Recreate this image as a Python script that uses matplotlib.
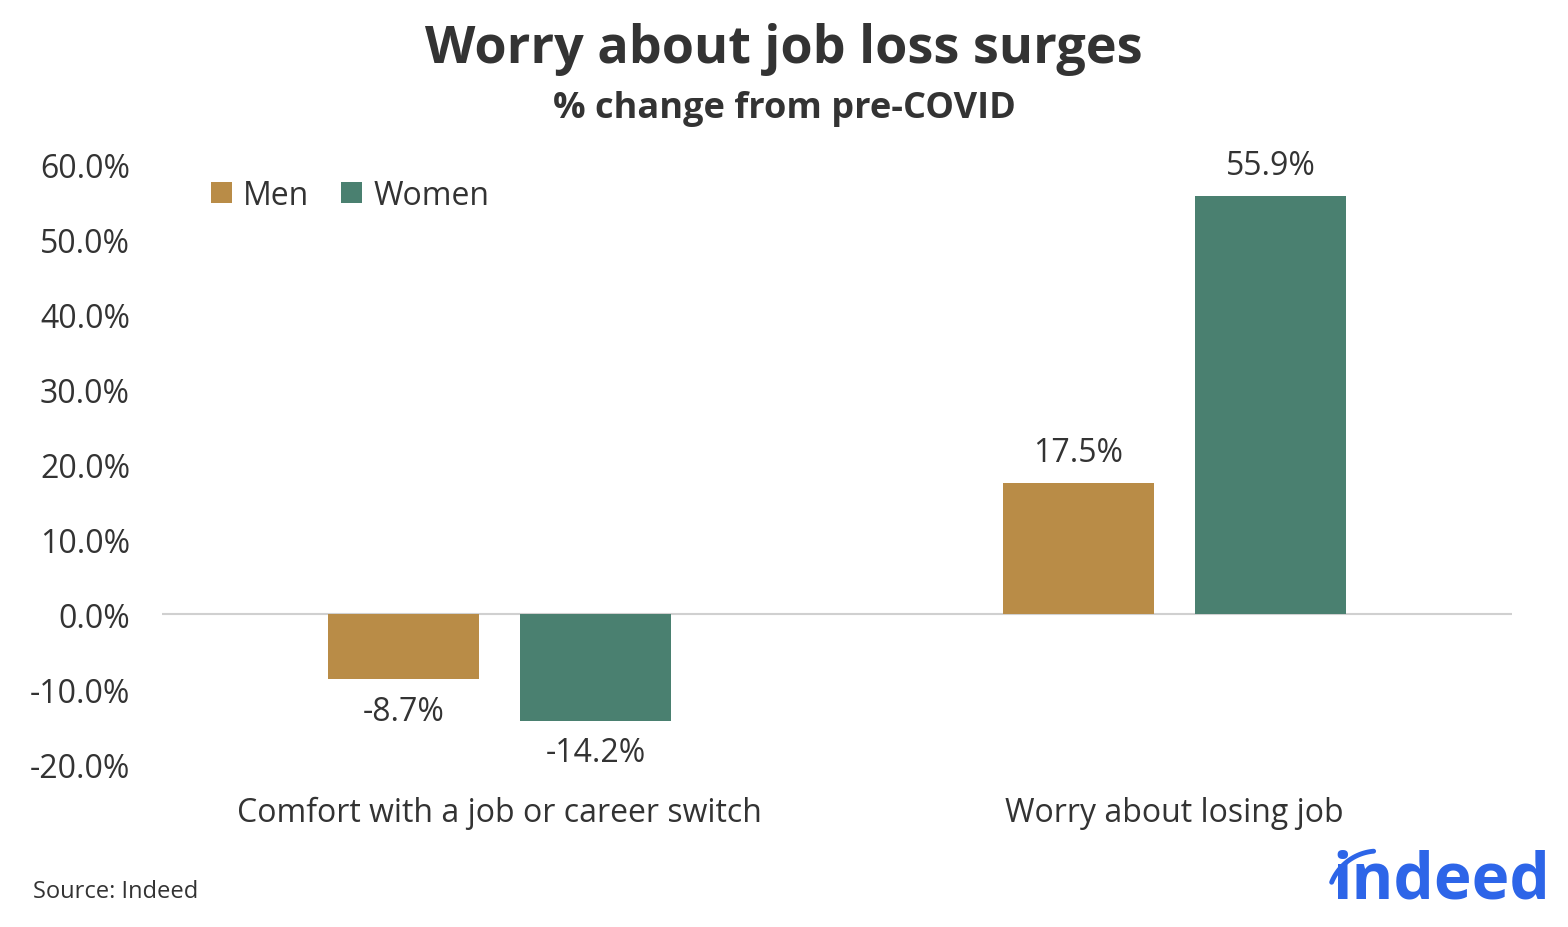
import matplotlib
matplotlib.use("Agg")
import matplotlib.pyplot as plt
import numpy as np

plt.rcParams['font.family'] = ['Open Sans', 'DejaVu Sans']

categories = ["Comfort with a job or career switch", "Worry about losing job"]
series_names = ["Men", "Women"]
men = [-8.7, 17.5]
women = [-14.2, 55.9]
yticks = [-20, -10, 0, 10, 20, 30, 40, 50, 60]

c_men = "#B98C47"
c_women = "#4A8070"
txt = "#333333"

fig = plt.figure(figsize=(15.68, 9.28), dpi=100)
ax = fig.add_axes([162/1568, 1-765/928, 1350/1568, 599/928])

x = np.arange(len(categories))
w = 0.2237
off = 0.1422
b1 = ax.bar(x - off, men, w, color=c_men, label=series_names[0])
b2 = ax.bar(x + off, women, w, color=c_women, label=series_names[1])

ax.set_xlim(-0.5, 1.5)
ax.set_ylim(-20, 60)
ax.axhline(0, color="#D0D0D0", lw=1.5, zorder=0)
for s in ax.spines.values():
    s.set_visible(False)
ax.set_yticks(yticks)
ax.set_yticklabels([f"{v:.1f}%" for v in yticks], fontsize=23, color=txt)
ax.tick_params(axis='y', length=0, pad=23)
ax.set_xticks(x)
ax.set_xticklabels(categories, fontsize=23, color=txt)
ax.tick_params(axis='x', length=0, pad=23)

for bars, vals in ((b1, men), (b2, women)):
    for r, v in zip(bars, vals):
        cx = r.get_x() + r.get_width()/2
        if v >= 0:
            ax.annotate(f"{v:.1f}%", (cx, v), xytext=(0, 10), textcoords="offset points",
                        ha="center", va="bottom", fontsize=23, color=txt)
        else:
            ax.annotate(f"{v:.1f}%", (cx, v), xytext=(0, -11), textcoords="offset points",
                        ha="center", va="top", fontsize=23, color=txt)

leg = ax.legend(loc="upper left", bbox_to_anchor=(0.015, 1.025), ncol=2, frameon=False,
                fontsize=23, handlelength=0.65, handleheight=0.65, handletextpad=0.35,
                columnspacing=1.0)
for t in leg.get_texts():
    t.set_color(txt)

fig.text(0.5, 1-50/928, "Worry about job loss surges", ha="center", va="center",
         fontsize=37.5, fontweight="bold", color=txt)
fig.text(0.5, 1-109/928, "% change from pre-COVID", ha="center", va="center",
         fontsize=26, fontweight="bold", color=txt)
fig.text(33/1568, 1-892/928, "Source: Indeed", ha="left", va="center",
         fontsize=17, color=txt)

# indeed logo
blue = "#2D65E8"
ov = fig.add_axes([0, 0, 1, 1], facecolor="none")
ov.set_xlim(0, 1568)
ov.set_ylim(928, 0)
ov.axis("off")
ov.text(1550, 882, "indeed", ha="right", va="center", fontsize=46,
        fontweight="bold", color=blue)
th = np.radians(np.linspace(95, 158, 40))
ov.plot(1378 + 50*np.cos(th), 902 - 50*np.sin(th), color=blue, lw=3.5,
        solid_capstyle="round")

fig.savefig("out.png", dpi=100)
